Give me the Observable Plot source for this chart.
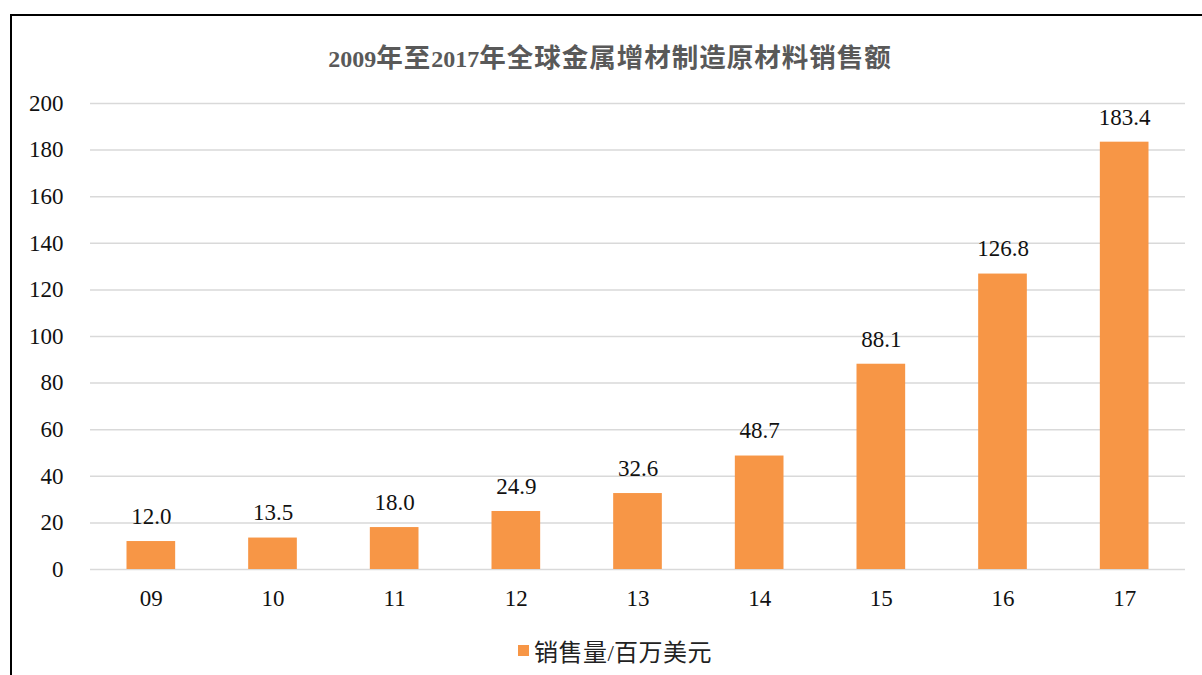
<!DOCTYPE html>
<html><head><meta charset="utf-8">
<script src="https://cdn.jsdelivr.net/npm/d3@7"></script>
<script src="https://cdn.jsdelivr.net/npm/@observablehq/plot@0.6"></script>
<style>
html,body{margin:0;padding:0;background:#fff;overflow:hidden;width:1202px;height:675px;}
#frame{position:absolute;left:10px;top:14px;width:1300px;height:800px;border:2px solid #000;box-sizing:border-box;}
#title{position:absolute;left:0;width:1220px;top:36px;text-align:center;font:bold 24px "Liberation Serif","Noto Sans CJK SC",serif;color:#595959;white-space:nowrap;}
#title .cjk{font-size:26.5px;letter-spacing:1px;}
#chart{position:absolute;left:0;top:70px;}
#legend{position:absolute;left:518px;top:633px;font:23px "Liberation Serif","Noto Sans CJK SC",serif;color:#222;display:flex;align-items:center;white-space:nowrap;}
#legend .cjk{font-size:24px;letter-spacing:0.5px;}
#legend span.sw{display:inline-block;width:11px;height:11px;background:#F79646;margin-right:5px;}
</style></head>
<body>
<div id="frame"></div>
<div id="title"></div>
<div id="chart"></div>
<div id="legend"><span class="sw"></span><span id="legtext"></span></div>
<script>
const titleText = "2009年至2017年全球金属增材制造原材料销售额";
const seriesName = "销售量/百万美元";
const years = ["09","10","11","12","13","14","15","16","17"];
const sales = [12.0,13.5,18.0,24.9,32.6,48.7,88.1,126.8,183.4];
const yTicks = [0,20,40,60,80,100,120,140,160,180,200];

function fillMixed(el, str){
  const parts = str.match(/[\u3000-\u9fff]+|[^\u3000-\u9fff]+/g);
  parts.forEach(p=>{
    const s = document.createElement("span");
    if (/[\u3000-\u9fff]/.test(p)) s.className = "cjk";
    s.textContent = p;
    el.appendChild(s);
  });
}
fillMixed(document.getElementById("title"), titleText);
fillMixed(document.getElementById("legtext"), seriesName);

const data = years.map((y,i)=>({year:y, value:sales[i]}));
const font = '"Liberation Serif","Noto Sans CJK SC",serif';
const chart = Plot.plot({
  width:1202, height:540,
  marginTop:33, marginBottom:41, marginLeft:90, marginRight:17,
  style:{fontFamily:font, fontSize:"23px", color:"#111", background:"transparent"},
  x:{domain:years, paddingInner:0.6, paddingOuter:0.3, round:false, label:null, tickSize:0, tickPadding:20},
  y:{domain:[0,200], ticks:yTicks, label:null, tickSize:0, tickPadding:27},
  marks:[
    Plot.gridY(yTicks,{stroke:"#d9d9d9", strokeOpacity:1, strokeWidth:1.5}),
    Plot.barY(data,{x:"year", y:"value", fill:"#F79646"}),
    Plot.text(data,{x:"year", y:"value", text:d=>d.value.toFixed(1), dy:-25, fontSize:23, fill:"#111"})
  ]
});
document.getElementById("chart").appendChild(chart);
</script>
</body></html>
